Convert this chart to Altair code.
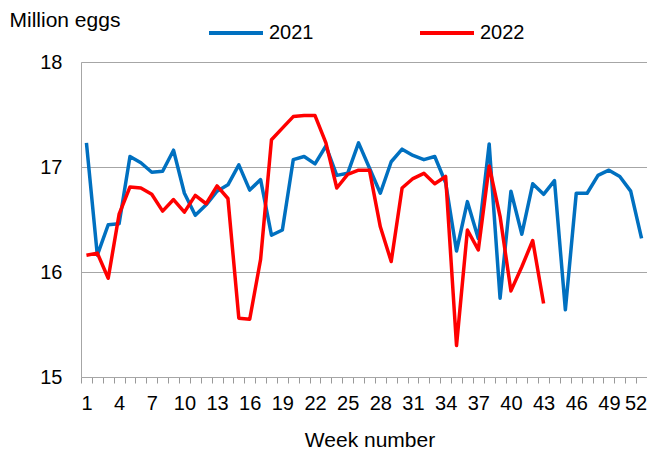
import altair as alt
import pandas as pd

weeks_2021 = list(range(1, 53))
values_2021 = [17.23, 16.16, 16.45, 16.46, 17.10, 17.04, 16.95, 16.96, 17.16, 16.75,
               16.54, 16.64, 16.77, 16.83, 17.02, 16.78, 16.88, 16.35, 16.40, 17.07,
               17.10, 17.03, 17.20, 16.92, 16.94, 17.23, 16.99, 16.75, 17.05, 17.17,
               17.11, 17.07, 17.10, 16.85, 16.20, 16.67, 16.32, 17.22, 15.75, 16.77,
               16.36, 16.84, 16.74, 16.87, 15.64, 16.75, 16.75, 16.92, 16.97, 16.91,
               16.77, 16.32]
weeks_2022 = list(range(1, 44))
values_2022 = [16.16, 16.18, 15.94, 16.55, 16.81, 16.80, 16.74, 16.58, 16.69, 16.57,
               16.73, 16.65, 16.82, 16.70, 15.56, 15.55, 16.12, 17.26, 17.37, 17.48,
               17.49, 17.49, 17.23, 16.80, 16.93, 16.97, 16.97, 16.43, 16.10, 16.80,
               16.89, 16.94, 16.84, 16.91, 15.30, 16.40, 16.21, 17.01, 16.53, 15.82,
               16.05, 16.30, 15.70]
series_names = ["2021", "2022"]
series_colors = ["#0070C0", "#FF0000"]
label_weeks = list(range(1, 53, 3))
tick_weeks = [w + 0.5 for w in range(0, 53)]
y_ticks = [15, 16, 17, 18]

df = pd.concat([
    pd.DataFrame({"week": weeks_2021, "value": values_2021, "year": "2021"}),
    pd.DataFrame({"week": weeks_2022, "value": values_2022, "year": "2022"}),
])

FONT = "Liberation Sans"
GRID = "#A6A6A6"
TICK = "#999999"

x_axis_values = sorted(label_weeks + tick_weeks)

x_scale = alt.Scale(domain=[0.5, 52.5], nice=False, zero=False)

chart = alt.Chart(df).mark_line(strokeWidth=3.5, strokeJoin="round").encode(
    x=alt.X("week:Q", scale=x_scale,
            axis=alt.Axis(values=x_axis_values, orient="bottom", grid=False,
                          ticks=True, tickSize=6, tickColor=TICK, tickWidth=1,
                          tickOpacity={"condition": {"test": "datum.value % 1 == 0",
                                                     "value": 0}, "value": 1},
                          labelExpr="datum.value % 1 == 0 ? datum.label : ''",
                          labelOffset={"condition": {"test": "datum.value == 52",
                                                     "value": -6}, "value": 0},
                          domainColor=GRID, domainWidth=1,
                          labelFont=FONT, labelFontSize=20, labelColor="black",
                          labelBaseline="alphabetic", labelPadding=26.5,
                          labelFlush=False, labelOverlap=False, labelBound=False,
                          title="Week number", titleFont=FONT, titleFontSize=21,
                          titleFontWeight="normal", titleColor="black",
                          titleX=288.5, titleY=69, titleAlign="center",
                          titleBaseline="alphabetic", titleAnchor="start")),
    y=alt.Y("value:Q", scale=alt.Scale(domain=[15, 18], nice=False, zero=False),
            axis=alt.Axis(values=y_ticks, ticks=False, grid=True, gridColor=GRID,
                          gridWidth=1, domainColor=GRID, domainWidth=1,
                          labelFont=FONT, labelFontSize=20, labelColor="black",
                          labelPadding=19, labelBaseline="middle",
                          title="Million eggs", titleFont=FONT, titleFontSize=21,
                          titleFontWeight="normal", titleColor="black",
                          titleAngle=0, titleX=-72, titleY=-35.5,
                          titleAlign="left", titleBaseline="alphabetic",
                          titleAnchor="start")),
    color=alt.Color("year:N",
                    scale=alt.Scale(domain=series_names, range=series_colors),
                    legend=alt.Legend(orient="none", legendX=126, legendY=-58,
                                      direction="horizontal", title=None,
                                      symbolType="stroke", symbolSize=2916,
                                      symbolStrokeWidth=4, labelFont=FONT,
                                      labelFontSize=20, labelColor="black",
                                      labelOffset=4, columnPadding=98, padding=0)),
).properties(
    width=566, height=315,
    padding={"left": 73, "top": 54, "right": 0, "bottom": 72},
    autosize=alt.AutoSizeParams(type="none"),
).configure_view(stroke=None).configure(background="white")

chart.save("out.html", embed_options={"renderer": "svg", "actions": False})
